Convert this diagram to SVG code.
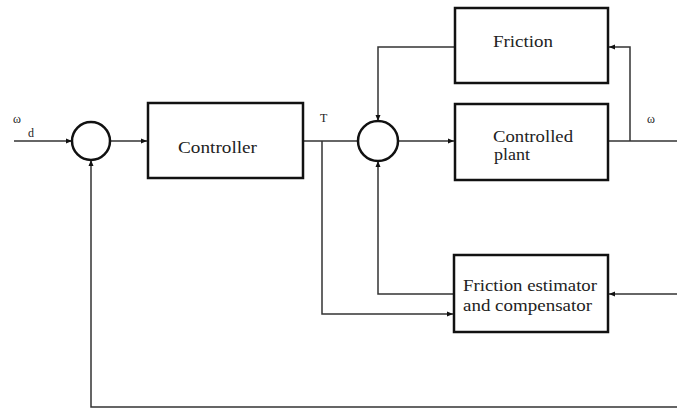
<svg xmlns="http://www.w3.org/2000/svg" width="677" height="412" viewBox="0 0 677 412">
<defs>
<marker id="arr" viewBox="0 0 6 6" refX="6" refY="3" markerWidth="6" markerHeight="6" markerUnits="userSpaceOnUse" orient="auto">
<path d="M0,0.5 L6,3 L0,5.5 Z" fill="#111"/>
</marker>
</defs>
<style>
.box{fill:#fff;stroke:#111;stroke-width:2.5}
.sum{fill:#fff;stroke:#111;stroke-width:2.5}
.ln{fill:none;stroke:#333;stroke-width:1.5}
.t{font-family:"Liberation Serif","Times New Roman",serif;font-size:16px;fill:#222}
.s{font-size:12px}
</style>
<rect width="677" height="412" fill="#fff"/>
<g id="connectors">
<path class="ln" d="M14,141 H72" marker-end="url(#arr)"/>
<path class="ln" d="M110,141 H147" marker-end="url(#arr)"/>
<path class="ln" d="M303,141 H358"/>
<path class="ln" d="M398,141 H454" marker-end="url(#arr)"/>
<path class="ln" d="M608,141 H677"/>
<path class="ln" d="M630,141 V47 H609" marker-end="url(#arr)"/>
<path class="ln" d="M455,47 H378 V121" marker-end="url(#arr)"/>
<path class="ln" d="M677,294 H609" marker-end="url(#arr)"/>
<path class="ln" d="M454,294 H378 V161" marker-end="url(#arr)"/>
<path class="ln" d="M322,141 V314 H453" marker-end="url(#arr)"/>
<path class="ln" d="M677,407 H91 V160" marker-end="url(#arr)"/>
</g>
<g id="sum1"><circle class="sum" cx="91" cy="141" r="19"/></g>
<g id="sum2"><circle class="sum" cx="378" cy="141" r="20"/></g>
<g id="controller">
<rect class="box" x="148" y="103" width="155" height="75"/>
<text class="t" x="178" y="153" textLength="79" lengthAdjust="spacingAndGlyphs">Controller</text>
</g>
<g id="friction">
<rect class="box" x="455" y="8" width="153" height="75"/>
<text class="t" x="493" y="47" textLength="60" lengthAdjust="spacingAndGlyphs">Friction</text>
</g>
<g id="plant">
<rect class="box" x="455" y="104" width="153" height="76"/>
<text class="t" x="493" y="142" textLength="80" lengthAdjust="spacingAndGlyphs">Controlled</text>
<text class="t" x="494" y="160" textLength="36" lengthAdjust="spacingAndGlyphs">plant</text>
</g>
<g id="estimator">
<rect class="box" x="454" y="255" width="154" height="77"/>
<text class="t" x="463" y="291" textLength="134" lengthAdjust="spacingAndGlyphs">Friction estimator</text>
<text class="t" x="463" y="311" textLength="129" lengthAdjust="spacingAndGlyphs">and compensator</text>
</g>
<g id="labels">
<text class="t s" x="13" y="123">ω</text>
<text class="t s" x="28" y="137">d</text>
<text class="t s" x="320" y="122">T</text>
<text class="t s" x="647" y="123">ω</text>
</g>
</svg>
